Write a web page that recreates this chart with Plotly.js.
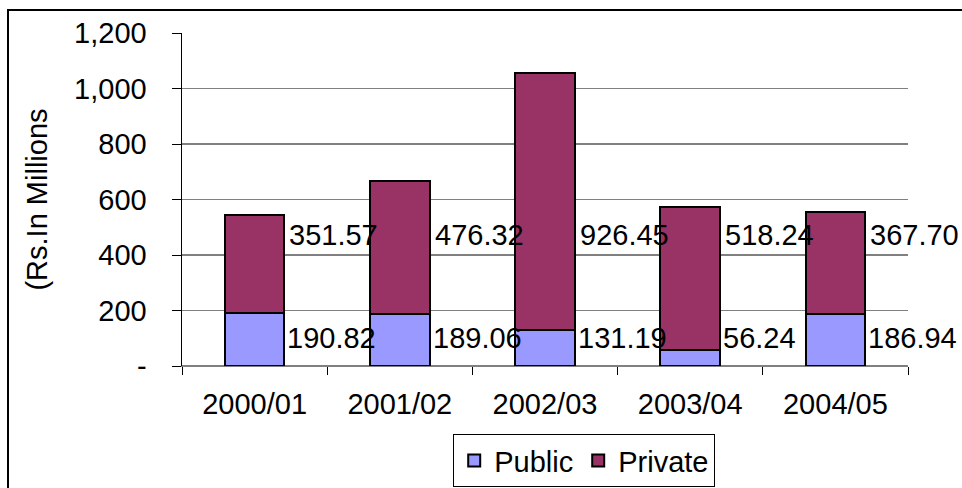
<!DOCTYPE html>
<html>
<head>
<meta charset="utf-8">
<script src="https://cdn.plot.ly/plotly-3.0.1.min.js"></script>
<style>
  html, body { margin: 0; padding: 0; overflow: hidden; background: #fff; }
  #chart { position: absolute; left: 0; top: 0; width: 962px; height: 488px; }
  #frame { position: absolute; left: 7px; top: 9px; width: 2000px; height: 2000px;
           border-left: 2px solid #000; border-top: 2px solid #000; pointer-events: none; z-index: 5; }
</style>
</head>
<body>
<div id="chart"></div>
<div id="frame"></div>
<script>
const categories = ["2000/01", "2001/02", "2002/03", "2003/04", "2004/05"];
const publicValues = [190.82, 189.06, 131.19, 56.24, 186.94];
const privateValues = [351.57, 476.32, 926.45, 518.24, 367.70];
const yTickValues = [0, 200, 400, 600, 800, 1000, 1200];
const yTickLabels = ["-", "200", "400", "600", "800", "1,000", "1,200"];

const FONT = "Arial, 'Liberation Sans', sans-serif";
const FS = 29;
const BAR_W = 0.41;
const PUBLIC_LABEL_LEVEL = 101;
const PRIVATE_LABEL_LEVEL = 472;

const traces = [
  {
    type: "bar", name: "Public", x: categories, y: publicValues, width: BAR_W,
    marker: { color: "#9999FF", line: { color: "#000000", width: 2 } },
    hoverinfo: "skip"
  },
  {
    type: "bar", name: "Private", x: categories, y: privateValues, width: BAR_W,
    marker: { color: "#993366", line: { color: "#000000", width: 2 } },
    hoverinfo: "skip"
  }
];

const annotations = [];
categories.forEach((c, i) => {
  annotations.push({
    x: i + BAR_W / 2, y: PUBLIC_LABEL_LEVEL, xref: "x", yref: "y",
    text: publicValues[i].toFixed(2), showarrow: false, xanchor: "left", yanchor: "middle",
    xshift: 1, font: { family: FONT, size: FS, color: "#000" }
  });
  annotations.push({
    x: i + BAR_W / 2, y: PRIVATE_LABEL_LEVEL, xref: "x", yref: "y",
    text: privateValues[i].toFixed(2), showarrow: false, xanchor: "left", yanchor: "middle",
    xshift: 3, font: { family: FONT, size: FS, color: "#000" }
  });
});

const layout = {
  width: 962, height: 488,
  margin: { l: 182, r: 54, t: 33, b: 122, autoexpand: false },
  paper_bgcolor: "#ffffff", plot_bgcolor: "#ffffff",
  barmode: "stack",
  font: { family: FONT, size: FS, color: "#000" },
  showlegend: true,
  legend: {
    orientation: "h", x: 0.554, xanchor: "center", y: -0.205, yanchor: "top",
    bordercolor: "#000", borderwidth: 1, traceorder: "normal",
    font: { family: FONT, size: FS, color: "#000" }, bgcolor: "#fff"
  },
  xaxis: {
    type: "category", range: [-0.5, categories.length - 0.5],
    tickson: "boundaries", ticks: "outside", ticklen: 8,
    tickcolor: "#000", tickwidth: 1, showline: true, linecolor: "#808080", linewidth: 1,
    showgrid: false, ticklabelstandoff: 12, fixedrange: true, automargin: false,
    tickfont: { family: FONT, size: FS, color: "#000" }
  },
  yaxis: {
    range: [0, 1200], tickvals: yTickValues, ticktext: yTickLabels,
    ticks: "outside", ticklen: 9, tickcolor: "#000", tickwidth: 1,
    showline: true, linecolor: "#000", linewidth: 1.5,
    showgrid: true, gridcolor: "#808080", gridwidth: 1.3,
    zeroline: true, zerolinecolor: "#808080", zerolinewidth: 1.3,
    ticklabelstandoff: 19, fixedrange: true, automargin: false,
    tickfont: { family: FONT, size: FS, color: "#000" },
    title: { text: "(Rs.In Millions", standoff: 18, font: { family: FONT, size: FS, color: "#000" } }
  },
  annotations: annotations
};

Plotly.newPlot("chart", traces, layout, { displayModeBar: false, staticPlot: true });
</script>
</body>
</html>
